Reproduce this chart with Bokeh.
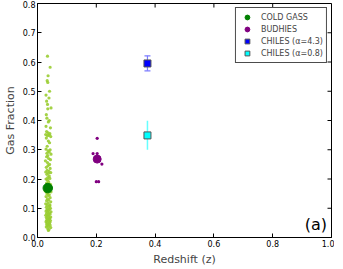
from bokeh.plotting import figure
from bokeh.models import (ColumnDataSource, Legend, LegendItem, Whisker,
                          TeeHead, Range1d, FixedTicker, Label, NumeralTickFormatter)
from bokeh.embed import file_html
from bokeh.resources import INLINE

# ---- data ----
coldgass_z = [0.034, 0.043, 0.036, 0.033, 0.035, 0.029, 0.041, 0.039, 0.031, 0.034, 0.046, 0.035,
              0.030, 0.032, 0.040, 0.037, 0.029, 0.044, 0.031, 0.036, 0.042, 0.028, 0.039, 0.034,
              0.045, 0.030, 0.037, 0.041, 0.033, 0.043, 0.029, 0.036, 0.040, 0.032, 0.046, 0.035,
              0.031, 0.038, 0.044, 0.027, 0.034, 0.041, 0.036, 0.030, 0.043, 0.033, 0.039, 0.028,
              0.037, 0.045, 0.032, 0.040, 0.035, 0.029, 0.042, 0.034, 0.038, 0.031, 0.044, 0.036,
              0.030, 0.041, 0.033, 0.039, 0.027, 0.046, 0.035, 0.032, 0.040, 0.037, 0.029, 0.043,
              0.034, 0.038, 0.031, 0.045, 0.036, 0.028, 0.042, 0.033, 0.039, 0.030, 0.044, 0.035,
              0.041, 0.032, 0.037, 0.029, 0.046, 0.034, 0.040, 0.031, 0.043, 0.036, 0.028, 0.038,
              0.033, 0.045, 0.030, 0.041, 0.035, 0.039, 0.032, 0.044, 0.037, 0.029, 0.042, 0.034,
              0.040, 0.031, 0.036, 0.043, 0.033, 0.038, 0.030, 0.045, 0.035, 0.039, 0.032, 0.041,
              0.037, 0.042]
coldgass_f = [0.620, 0.582, 0.553, 0.536, 0.530, 0.487, 0.500, 0.477, 0.466, 0.455, 0.443, 0.440,
              0.420, 0.408, 0.400, 0.395, 0.380, 0.375, 0.362, 0.358, 0.355, 0.352, 0.350, 0.348,
              0.345, 0.340, 0.330, 0.324, 0.312, 0.300, 0.302, 0.296, 0.292, 0.288, 0.285, 0.280,
              0.276, 0.270, 0.266, 0.262, 0.256, 0.250, 0.246, 0.240, 0.236, 0.230, 0.226, 0.224,
              0.220, 0.222, 0.216, 0.210, 0.205, 0.200, 0.202, 0.196, 0.190, 0.186, 0.182, 0.178,
              0.176, 0.172, 0.166, 0.162, 0.158, 0.156, 0.152, 0.150, 0.146, 0.144, 0.140, 0.136,
              0.132, 0.128, 0.126, 0.122, 0.118, 0.115, 0.112, 0.110, 0.106, 0.103, 0.100, 0.098,
              0.096, 0.094, 0.092, 0.090, 0.088, 0.086, 0.084, 0.082, 0.080, 0.078, 0.076, 0.074,
              0.072, 0.070, 0.068, 0.066, 0.064, 0.062, 0.060, 0.058, 0.056, 0.054, 0.052, 0.050,
              0.048, 0.046, 0.044, 0.042, 0.040, 0.038, 0.036, 0.034, 0.030, 0.027, 0.058, 0.065,
              0.024, 0.108]
coldgass_mean_z = [0.035]
coldgass_mean_f = [0.169]

budhies_z = [0.189, 0.203, 0.203, 0.219, 0.200, 0.208]
budhies_f = [0.287, 0.287, 0.339, 0.251, 0.191, 0.191]
budhies_mean_z = [0.203]
budhies_mean_f = [0.268]

chiles43_z = [0.374]
chiles43_f = [0.595]
chiles43_lo = [0.570]
chiles43_hi = [0.621]

chiles08_z = [0.374]
chiles08_f = [0.349]
chiles08_lo = [0.300]
chiles08_hi = [0.399]

x_ticks = [0.0, 0.2, 0.4, 0.6, 0.8, 1.0]
y_ticks = [0.0, 0.1, 0.2, 0.3, 0.4, 0.5, 0.6, 0.7, 0.8]
x_min, x_max = 0.0, 1.0
y_min, y_max = 0.0, 0.8

FONT = "DejaVu Sans"
W, H = 334, 268

p = figure(width=W, height=H, output_backend="svg", toolbar_location=None,
           x_range=Range1d(x_min, x_max), y_range=Range1d(y_min, y_max),
           min_border_left=2, min_border_right=3, min_border_top=3, min_border_bottom=2)
p.xgrid.visible = False
p.ygrid.visible = False
p.outline_line_color = "black"
p.outline_line_width = 1

p.xaxis.axis_label = "Redshift (z)"
p.yaxis.axis_label = "Gas Fraction"
p.xaxis.ticker = FixedTicker(ticks=x_ticks)
p.yaxis.ticker = FixedTicker(ticks=y_ticks)
for ax in p.xaxis + p.yaxis:
    ax.formatter = NumeralTickFormatter(format="0.0")
    ax.major_tick_in = 4
    ax.major_tick_out = 0
    ax.minor_tick_line_color = None
    ax.axis_line_color = "black"
    ax.major_tick_line_color = "black"
    ax.major_label_text_font = FONT
    ax.major_label_text_font_size = "8px"
    ax.major_label_text_color = "black"
    ax.major_label_standoff = 2
    ax.axis_label_text_font = FONT
    ax.axis_label_text_font_size = "11px"
    ax.axis_label_text_font_style = "normal"
    ax.axis_label_standoff = 3

# inward ticks on top and right edges (4 px long, converted to data units)
frame_w = W - 40
frame_h = H - 36
tx = 4 * (x_max - x_min) / frame_w
ty = 4 * (y_max - y_min) / frame_h
p.segment(x0=x_ticks, x1=x_ticks, y0=[y_max] * len(x_ticks), y1=[y_max - ty] * len(x_ticks),
          line_color="black", line_width=1)
p.segment(x0=[x_max] * len(y_ticks), x1=[x_max - tx] * len(y_ticks), y0=y_ticks, y1=y_ticks,
          line_color="black", line_width=1)

# Cold GASS individual
p.scatter(coldgass_z, coldgass_f, marker="circle", size=3.2, fill_color="#9acd32",
          line_color=None, fill_alpha=0.9)
r_cg = p.scatter(coldgass_mean_z, coldgass_mean_f, marker="circle", size=9.5,
                 fill_color="#008000", line_color="#008000")

# BUDHIES
p.scatter(budhies_z, budhies_f, marker="circle", size=3.2, fill_color="#800080", line_color=None)
r_bu = p.scatter(budhies_mean_z, budhies_mean_f, marker="circle", size=8,
                 fill_color="#800080", line_color="#800080")

# CHILES error bars
src43 = ColumnDataSource(dict(x=chiles43_z, lo=chiles43_lo, hi=chiles43_hi))
src08 = ColumnDataSource(dict(x=chiles08_z, lo=chiles08_lo, hi=chiles08_hi))
w43 = Whisker(source=src43, base="x", lower="lo", upper="hi", dimension="height",
              line_color="#7b7bff", line_width=1.2,
              upper_head=TeeHead(size=6, line_color="#7b7bff", line_width=1.2),
              lower_head=TeeHead(size=6, line_color="#7b7bff", line_width=1.2))
w08 = Whisker(source=src08, base="x", lower="lo", upper="hi", dimension="height",
              line_color="#66ffff", line_width=1.5,
              upper_head=TeeHead(size=1, line_color="#66ffff", line_alpha=0),
              lower_head=TeeHead(size=1, line_color="#66ffff", line_alpha=0))
p.add_layout(w43)
p.add_layout(w08)

r_c43 = p.scatter(chiles43_z, chiles43_f, marker="square", size=7,
                  fill_color="#0000ff", line_color="#555555")
r_c08 = p.scatter(chiles08_z, chiles08_f, marker="square", size=7,
                  fill_color="#00ffff", line_color="#555555")

legend = Legend(items=[
    LegendItem(label="COLD GASS", renderers=[r_cg]),
    LegendItem(label="BUDHIES", renderers=[r_bu]),
    LegendItem(label="CHILES (α=4.3)", renderers=[r_c43]),
    LegendItem(label="CHILES (α=0.8)", renderers=[r_c08]),
], location="top_right")
legend.label_text_font = FONT
legend.label_text_font_size = "8px"
legend.label_height = 10
legend.glyph_height = 12
legend.glyph_width = 16
legend.spacing = 0
legend.padding = 3
legend.margin = 4
legend.label_standoff = 6
legend.border_line_color = "black"
legend.border_line_alpha = 0.7
legend.background_fill_alpha = 1
p.add_layout(legend)

p.add_layout(Label(x=0.985, y=0.012, text="(a)", text_font=FONT, text_font_size="16px",
                   text_align="right", text_baseline="bottom", text_color="black"))

open("out.html", "w").write(file_html(p, INLINE))
